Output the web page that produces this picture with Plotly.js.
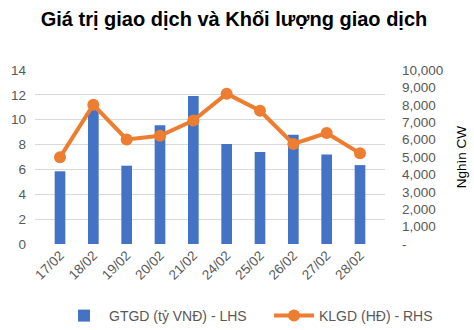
<!DOCTYPE html>
<html><head><meta charset="utf-8">
<script src="https://cdn.plot.ly/plotly-3.0.1.min.js"></script>
<style>body{margin:0;background:#fff}#c{width:474px;height:330px}</style>
</head><body><div id="c"></div>
<script>
const categories = ["17/02","18/02","19/02","20/02","21/02","24/02","25/02","26/02","27/02","28/02"];
const gtgd = [5.85, 10.8, 6.3, 9.55, 11.9, 8.05, 7.4, 8.8, 7.2, 6.35];
const klgd = [4980, 8000, 6010, 6220, 7100, 8640, 7660, 5750, 6380, 5210];
const leftTicks = [0,2,4,6,8,10,12,14];
const rightTickVals = [0,1000,2000,3000,4000,5000,6000,7000,8000,9000,10000];
const rightTickText = ["-","1,000","2,000","3,000","4,000","5,000","6,000","7,000","8,000","9,000","10,000"];

const ff = "Liberation Sans, Arial, sans-serif";
const tickFont = {family:ff, size:13.5, color:"#595959"};
const legFont = {family:ff, size:14, color:"#595959"};
Plotly.newPlot("c", [
  {type:"bar", x:categories, y:gtgd, name:"GTGD (tỷ VNĐ) - LHS", marker:{color:"#4472C4"}, yaxis:"y", legend:"legend"},
  {type:"scatter", mode:"lines+markers", x:categories, y:klgd, name:"KLGD (HĐ) - RHS", yaxis:"y2", legend:"legend2",
   line:{color:"#ED7D31", width:4}, marker:{color:"#ED7D31", size:12}}
], {
  width:474, height:330,
  margin:{l:35, r:89, t:70, b:86},
  paper_bgcolor:"#fff", plot_bgcolor:"#fff",
  bargap:0.68,
  title:{text:"<b>Giá trị giao dịch và Khối lượng giao dịch</b>", x:234/474, xanchor:"center", xref:"container", y:1-19/330, yanchor:"middle",
         font:{family:ff, size:20, color:"#000"}},
  xaxis:{type:"category", tickangle:-45, tickfont:tickFont, showgrid:false, zeroline:false, showline:false, ticks:"", automargin:false},
  yaxis:{range:[0,14], tickvals:leftTicks, tickfont:tickFont, gridcolor:"#d9d9d9", gridwidth:1, zeroline:false, showline:false, ticks:"", ticklabelstandoff:8, automargin:false},
  yaxis2:{range:[0,10000], overlaying:"y", side:"right", tickvals:rightTickVals, ticktext:rightTickText, tickfont:tickFont,
          showgrid:false, zeroline:false, showline:false, ticks:"", ticklabelstandoff:16, automargin:false,
          title:{text:"Nghìn CW", font:{family:ff, size:13.5, color:"#000"}, standoff:14}},
  legend:{orientation:"h", x:59/474, xanchor:"left", xref:"container", yref:"container", y:1-316/330, yanchor:"middle", itemwidth:40,
          font:legFont, bgcolor:"rgba(0,0,0,0)"},
  legend2:{orientation:"h", x:269/474, xanchor:"left", xref:"container", yref:"container", y:1-316/330, yanchor:"middle", itemwidth:40,
          font:legFont, bgcolor:"rgba(0,0,0,0)"},
  showlegend:true
}, {displayModeBar:false, staticPlot:true});
</script></body></html>
